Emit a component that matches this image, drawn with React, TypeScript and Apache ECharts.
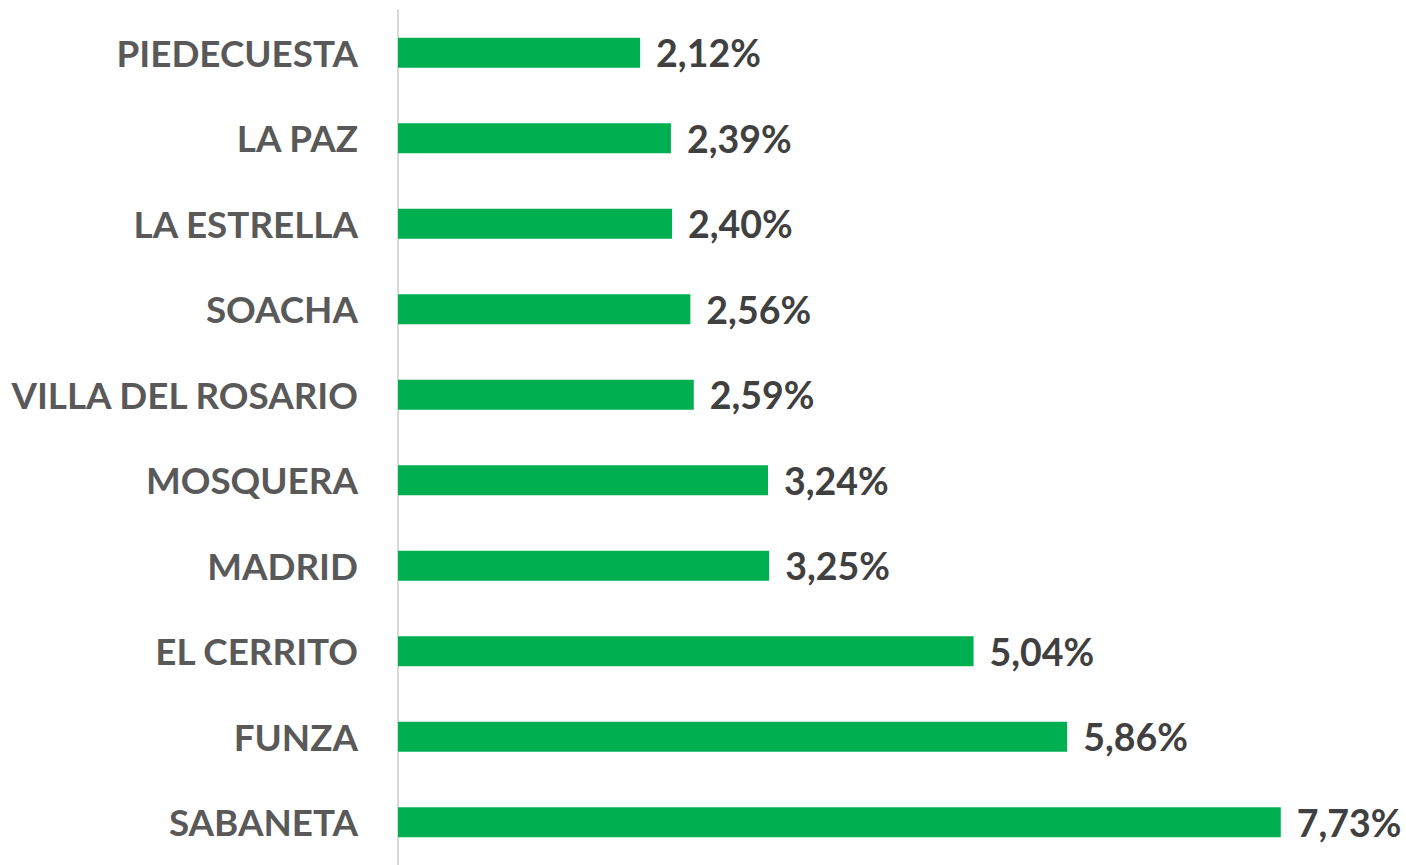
import React, { useEffect, useRef } from "react";
import * as echarts from "echarts";

const categories = [
  "PIEDECUESTA",
  "LA PAZ",
  "LA ESTRELLA",
  "SOACHA",
  "VILLA DEL ROSARIO",
  "MOSQUERA",
  "MADRID",
  "EL CERRITO",
  "FUNZA",
  "SABANETA",
];
const values = [2.12, 2.39, 2.4, 2.56, 2.59, 3.24, 3.25, 5.04, 5.86, 7.73];

export default function App() {
  const ref = useRef<HTMLDivElement>(null);
  useEffect(() => {
    document.body.style.margin = "0";
    const chart = echarts.init(ref.current!, null, { renderer: "svg" });
    chart.setOption({
      animation: false,
      grid: { left: 398, top: 10, bottom: -1, right: 94.4, containLabel: false },
      xAxis: {
        type: "value",
        min: 0,
        max: 8,
        show: false,
      },
      yAxis: {
        type: "category",
        data: categories,
        inverse: true,
        axisLine: { show: true, lineStyle: { color: "#d9d9d9", width: 2 } },
        axisTick: { show: false },
        splitLine: { show: false },
        axisLabel: {
          margin: 40,
          color: "#595959",
          fontFamily: "Lato",
          fontWeight: "bold",
          fontSize: 36.8,
        },
      },
      series: [
        {
          type: "bar",
          data: values,
          barWidth: 30,
          itemStyle: { color: "#00b050" },
          label: {
            show: true,
            position: "right",
            distance: 16,
            color: "#404040",
            fontFamily: "Lato",
            fontWeight: "bold",
            fontSize: 37.5,
            formatter: (p: any) => p.value.toFixed(2).replace(".", ",") + "%",
          },
        },
      ],
    });
    return () => chart.dispose();
  }, []);
  return <div ref={ref} style={{ width: 1406, height: 865 }} />;
}
